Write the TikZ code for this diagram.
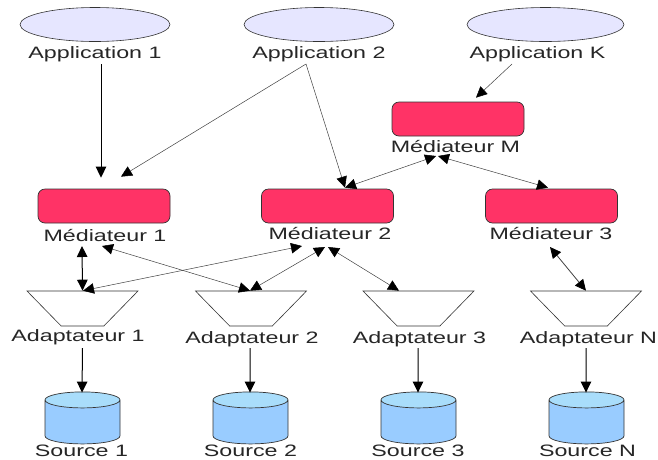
\documentclass[tikz,border=0pt]{standalone}
\usepackage{fontspec}
\setmainfont{Liberation Sans}
\usetikzlibrary{shapes.geometric, arrows.meta}
\definecolor{appfill}{HTML}{E6E6FF}
\definecolor{medfill}{HTML}{FF3366}
\definecolor{srcbody}{HTML}{99CCFF}
\definecolor{srctop}{HTML}{A9DDFB}
\definecolor{edge}{HTML}{333333}
\tikzset{
    app/.style = {ellipse, draw=edge, fill=appfill, line width=0.6pt, minimum width=150pt, minimum height=34pt, inner sep=0pt},
    med/.style = {rectangle, rounded corners=7pt, draw=edge, fill=medfill, line width=0.7pt, minimum width=132pt, minimum height=34pt, inner sep=0pt},
    adapt/.style = {trapezium, shape border rotate=180, trapezium stretches=true, trapezium left angle=51.3, trapezium right angle=51.3, draw=edge, line width=0.6pt, minimum width=111pt, minimum height=35pt, inner sep=1pt},
    src/.style = {cylinder, shape border rotate=90, aspect=8, cylinder uses custom fill, cylinder body fill=srcbody, cylinder end fill=srctop, draw=edge, line width=0.7pt, minimum width=75pt, minimum height=52pt, inner sep=1pt},
    lab/.style = {font=\fontsize{16.5}{18}\selectfont, text=black!85, xscale=1.41, transform shape, inner sep=0pt, text height=12pt, text depth=4pt},
    tip/.tip = {Triangle[length=11pt, width=10.5pt, color=black]},
    link/.style = {-tip, line width=0.5pt, draw=black!75},
    dlink/.style = {tip-tip, line width=0.5pt, draw=black!75},
    strong/.style = {line width=1pt, draw=black}
}

\begin{document}
\begin{tikzpicture}[x = 1pt, y = -1pt]
    \useasboundingbox (0,0) rectangle (658,459);

    \node[app] (app1) at (95,24.5) {};
    \node[app] (app2) at (319,24.5) {};
    \node[app, minimum width=157pt] (appK) at (545.5,24.5) {};
    \node[lab] (lapp1) at (95,54.3) {Application 1};
    \node[lab] (lapp2) at (319,54.3) {Application 2};
    \node[lab] (lappK) at (537.5,54.5) {Application K};

    \node[med] (medM) at (458,119) {};
    \node[med] (med1) at (104,206) {};
    \node[med] (med2) at (327.5,206) {};
    \node[med] (med3) at (551.5,206) {};
    \node[lab] (lmedM) at (455.5,148.3) {Médiateur M};
    \node[lab] (lmed1) at (105,237) {Médiateur 1};
    \node[lab] (lmed2) at (330,235.5) {Médiateur 2};
    \node[lab] (lmed3) at (551,235) {Médiateur 3};

    \node[adapt] (ad1) at (82.5,308.5) {};
    \node[adapt] (ad2) at (251,308.5) {};
    \node[adapt] (ad3) at (418.5,308.5) {};
    \node[adapt] (adN) at (586,308.5) {};
    \node[lab] (lad1) at (78,337.7) {Adaptateur 1};
    \node[lab] (lad2) at (252,339) {Adaptateur 2};
    \node[lab] (lad3) at (419.5,339) {Adaptateur 3};
    \node[lab] (ladN) at (588.5,339) {Adaptateur N};

    \node[src] (src1) at (82.5,423) {};
    \node[src] (src2) at (250.5,423) {};
    \node[src] (src3) at (418.5,423) {};
    \node[src] (srcN) at (586.5,423) {};
    \node[lab] (lsrc1) at (81.5,452) {Source 1};
    \node[lab] (lsrc2) at (250.5,452) {Source 2};
    \node[lab] (lsrc3) at (418,452) {Source 3};
    \node[lab] (lsrcN) at (587.5,452) {Source N};

    \draw[link, strong] ([shift={(6,9.7)}]lapp1.center) -- ([shift={(-3,-11)}]med1.north);
    \draw[link] ([shift={(-13,9.7)}]lapp2.center) -- ([shift={(17,-12)}]med1.north);
    \draw[link] ([shift={(-13,9.7)}]lapp2.center) -- ([shift={(17.5,-1)}]med2.north);
    \draw[link] ([shift={(-25.5,9.5)}]lappK.center) -- ([shift={(18,-4)}]medM.north);

    \draw[dlink] ([shift={(-19.5,7.7)}]lmedM.center) -- ([shift={(17.5,-1)}]med2.north);
    \draw[dlink] ([shift={(-17.5,7.7)}]lmedM.center) -- ([shift={(-3.5,-1)}]med3.north);
    \draw[dlink, strong] ([shift={(-23,9)}]lmed1.center) -- (ad1.north);
    \draw[dlink] ([shift={(-3,9)}]lmed1.center) -- ([shift={(-1,0)}]ad2.north);
    \draw[dlink] ([shift={(-28,10.5)}]lmed2.center) -- ([shift={(0.5,0)}]ad1.north);
    \draw[dlink] ([shift={(-5,11.5)}]lmed2.center) -- ([shift={(-1,0)}]ad2.north);
    \draw[dlink] ([shift={(-2,11.5)}]lmed2.center) -- ([shift={(-19.5,0)}]ad3.north);
    \draw[dlink, line width=0.8pt] ([shift={(-1,12)}]lmed3.center) -- (adN.north);

    \draw[link, strong] ([shift={(4.5,10.3)}]lad1.center) -- ([shift={(-0.5,1)}]src1.north);
    \draw[link, strong] ([shift={(-2,9)}]lad2.center) -- ([shift={(-0.5,1)}]src2.north);
    \draw[link, strong] ([shift={(-1.5,9)}]lad3.center) -- ([shift={(-0.5,1)}]src3.north);
    \draw[link, strong] ([shift={(-2.5,9)}]ladN.center) -- ([shift={(-0.5,1)}]srcN.north);
\end{tikzpicture}
\end{document}
